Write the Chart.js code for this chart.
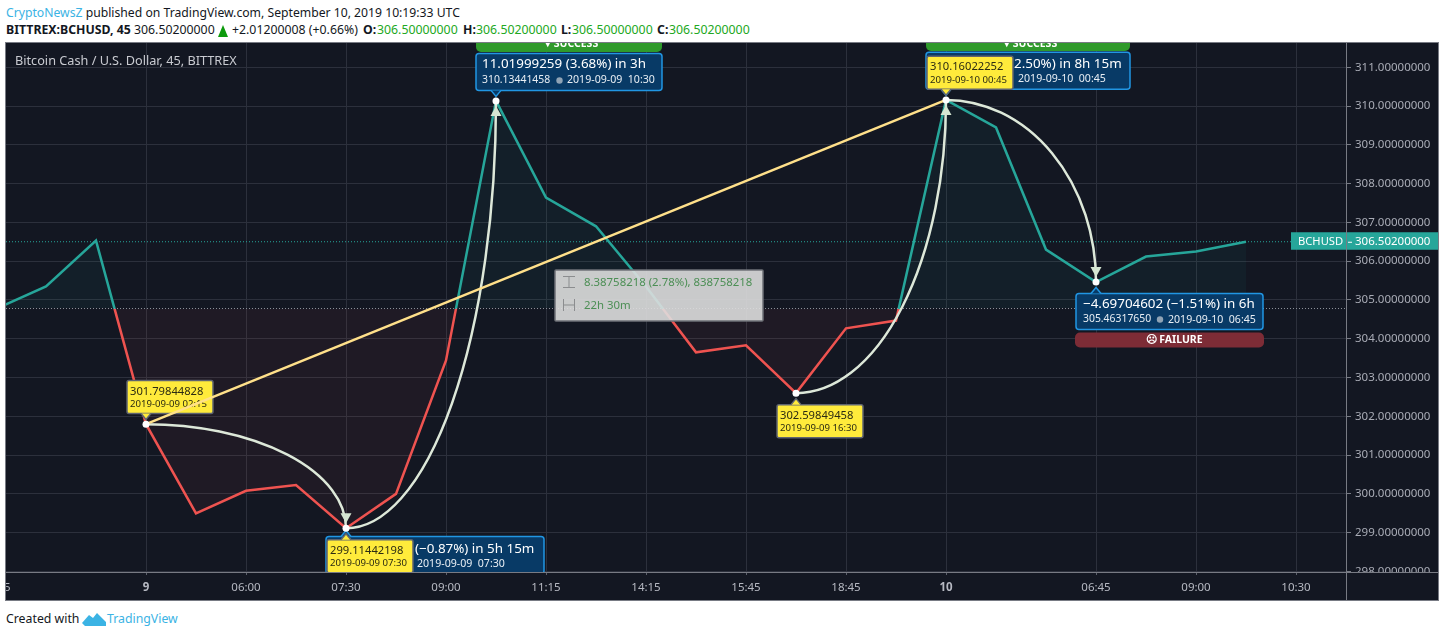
<!DOCTYPE html>
<html>
<head>
<meta charset="utf-8">
<title>BCHUSD</title>
<script src="https://cdn.jsdelivr.net/npm/chart.js@4"></script>
<style>
  html, body { margin: 0; padding: 0; background: #fff; }
  body { width: 1444px; height: 637px; overflow: hidden; position: relative; font-family: "Noto Sans", sans-serif; color: #131722; }
  .t { position: absolute; white-space: pre; font-size: 12.3px; line-height: 16px; }
  .b { font-weight: bold; }
  .g { color: #22a822; }
  .c { color: #3bb3e4; }
  #panel { position: absolute; left: 5px; top: 42px; width: 1432px; height: 557px; border: 1px solid #787b84; background: #131722; }
  #panel canvas { position: absolute; left: 0; top: 0; }
  #up { position: absolute; left: 218px; top: 25px; width: 0; height: 0; border-left: 5px solid transparent; border-right: 5px solid transparent; border-bottom: 12px solid #0c9a0c; }
  #logo { position: absolute; left: 82px; top: 612px; }
</style>
</head>
<body>
<div class="t" style="left:6px;top:5px;font-size:12.2px"><span class="c">CryptoNewsZ</span> published on TradingView.com, September 10, 2019 10:19:33 UTC</div>
<div class="t b" style="left:6px;top:22px">BITTREX:BCHUSD, 45</div>
<div class="t" style="left:134px;top:22px">306.50200000</div>
<div id="up"></div>
<div class="t" style="left:232px;top:22px">+2.01200008 (+0.66%)</div>
<div class="t b" style="left:363px;top:22px">O:</div><div class="t g" style="left:377px;top:22px">306.50000000</div>
<div class="t b" style="left:463px;top:22px">H:</div><div class="t g" style="left:476px;top:22px">306.50200000</div>
<div class="t b" style="left:561px;top:22px">L:</div><div class="t g" style="left:572px;top:22px">306.50000000</div>
<div class="t b" style="left:657px;top:22px">C:</div><div class="t g" style="left:669px;top:22px">306.50200000</div>

<div id="panel"><canvas id="chart" width="1432" height="557"></canvas></div>

<div class="t" style="left:6px;top:611px;font-size:12.3px">Created with</div>
<svg id="logo" width="24" height="15" viewBox="0 0 24 15"><path d="M0 11 L7 3 L11 6 L15 1 L24 10 L24 14 L3 14 Z" fill="#3bb3e4"/></svg>
<div class="t c" style="left:107px;top:611px;font-size:12.3px">TradingView</div>

<script>
// bars, 45 minute chart. index in the array = bar position on the x axis
var closes = [304.77, 305.35, 306.53, 301.79844828, 299.5, 300.08, 300.23, 299.11442198, 300.0, 303.44,
              310.13441458, 307.64, 306.9, 305.35, 303.65, 303.83, 302.59849458, 304.27, 304.47, 310.16022252,
              309.45, 306.3, 305.4631765, 306.12, 306.25, 306.502];
var xLabels = ['22:15', '', '', '9', '', '06:00', '', '07:30', '', '09:00', '', '11:15', '', '14:15', '', '15:45',
               '', '18:45', '', '10', '', '', '06:45', '', '09:00', '', '10:30'];
var boldLabels = ['9', '10'];
var yTicks = [298, 299, 300, 301, 302, 303, 304, 305, 306, 307, 308, 309, 310, 311];
var yMin = 297.986, yMax = 311.627;
var baseline = 304.78;
var lastPrice = 306.502;

// pattern pivots
var pivotIndex = [3, 7, 10, 16, 19, 22];
var pivotValue = [301.79844828, 299.11442198, 310.13441458, 302.59849458, 310.16022252, 305.4631765];
var pivotDate = ['2019-09-09 02:15', '2019-09-09 07:30', '2019-09-09 10:30', '2019-09-09 16:30', '2019-09-10 00:45', '2019-09-10 06:45'];
var trendFrom = 0, trendTo = 4;

var TEAL = '#26a69a', RED = '#ef5350', FONT = '"Noto Sans", sans-serif';

function lineColor(ctx) {
  var chart = ctx.chart, area = chart.chartArea;
  if (!area) return TEAL;
  var g = chart.ctx.createLinearGradient(0, area.top, 0, area.bottom);
  var stop = (chart.scales.y.getPixelForValue(baseline) - area.top) / (area.bottom - area.top);
  g.addColorStop(0, TEAL); g.addColorStop(stop, TEAL);
  g.addColorStop(stop, RED); g.addColorStop(1, RED);
  return g;
}

function box(c, x, y, w, h, r, fill, stroke) {
  c.beginPath();
  c.roundRect(x, y, w, h, r);
  c.fillStyle = fill; c.fill();
  if (stroke) { c.strokeStyle = stroke; c.lineWidth = 1.5; c.stroke(); }
}
function text(c, s, x, y, size, color, weight) {
  c.font = (weight ? weight + ' ' : '') + size + 'px ' + FONT;
  c.fillStyle = color; c.textAlign = 'left'; c.textBaseline = 'middle';
  c.fillText(s, x, y);
}
function pointer(c, x, y, dir, fill, stroke) {
  c.beginPath();
  c.moveTo(x - 5, y); c.lineTo(x, y + dir * 6); c.lineTo(x + 5, y);
  c.fillStyle = fill; c.fill();
  if (stroke) { c.strokeStyle = stroke; c.lineWidth = 1.5; c.stroke(); }
}
function pix(chart, n) {
  return { x: chart.scales.x.getPixelForValue(pivotIndex[n]), y: chart.scales.y.getPixelForValue(pivotValue[n]) };
}

function arrow(c, p, dir) {
  c.beginPath();
  c.moveTo(p.x, p.y + dir * 5); c.lineTo(p.x - 5.5, p.y + dir * 15); c.lineTo(p.x + 5.5, p.y + dir * 15);
  c.closePath();
  c.fillStyle = '#d5e6d2'; c.fill();
}
function drawArcs(c, chart) {
  c.strokeStyle = '#dde8d9'; c.lineWidth = 2.5;
  var a = pix(chart, 0), b = pix(chart, 1), d = pix(chart, 2), e = pix(chart, 3), f = pix(chart, 4), g = pix(chart, 5);
  c.beginPath(); c.ellipse(a.x, b.y, b.x - a.x, b.y - a.y, 0, -Math.PI / 2, 0); c.stroke();
  arrow(c, b, -1);
  c.beginPath(); c.ellipse(b.x, d.y, d.x - b.x, b.y - d.y, 0, Math.PI / 2, 0, true); c.stroke();
  arrow(c, d, 1);
  c.beginPath(); c.ellipse(e.x, f.y, f.x - e.x, e.y - f.y, 0, Math.PI / 2, 0, true); c.stroke();
  arrow(c, f, 1);
  c.beginPath(); c.ellipse(f.x, g.y, g.x - f.x, g.y - f.y, 0, -Math.PI / 2, 0); c.stroke();
  arrow(c, g, -1);
}

function blueBox(c, p, dy, w, h, up) {
  box(c, p.x - 20, p.y + dy, w, h, 3, '#083a66', '#2196e3');
  pointer(c, p.x, up ? p.y + dy : p.y + dy + h, up ? -1 : 1, '#083a66', '#2196e3');
}
function clockRow(c, p, dy, value, date) {
  text(c, value, p.x - 14, p.y + dy, 10.4, '#e8eef4');
  c.beginPath(); c.arc(p.x + 63.5, p.y + dy, 3.2, 0, Math.PI * 2); c.fillStyle = '#8fa3b5'; c.fill();
  text(c, date, p.x + 71, p.y + dy, 10.6, '#e8eef4');
}
function resultBar(c, x, y, w, h, fill, label) {
  box(c, x, y, w, h, 5, fill);
  text(c, label, x + w / 2 - 24, y + h / 2, 10.5, '#fff', 'bold');
}
function yellowTag(c, p, n, below) {
  var dy = below ? 11.5 : -43.7;
  box(c, p.x - 19, p.y + dy, 86, 33, 2, '#ffeb3b', '#5f6470');
  pointer(c, p.x, below ? p.y + dy : p.y + dy + 33, below ? -1 : 1, '#ffeb3b', '#5f6470');
  text(c, pivotValue[n].toFixed(8), p.x - 16, p.y + dy + 11, 11.2, '#2b2b12');
  text(c, pivotDate[n], p.x - 16, p.y + dy + 24, 9.6, '#2b2b12');
}

function drawMeasure(c) {
  // drawn over the line, so part of the series shows through
  box(c, 549, 227, 208, 51, 1, 'rgba(222,222,222,0.9)', '#6f7278');
  c.strokeStyle = '#8b8d8f'; c.lineWidth = 1;
  c.beginPath();
  c.moveTo(557, 233.5); c.lineTo(569, 233.5); c.moveTo(557, 244.5); c.lineTo(569, 244.5);
  c.moveTo(563, 234); c.lineTo(563, 244);
  c.moveTo(557.5, 256); c.lineTo(557.5, 268); c.moveTo(568.5, 256); c.lineTo(568.5, 268);
  c.moveTo(558, 262); c.lineTo(568, 262);
  c.stroke();
  text(c, '8.38758218 (2.78%), 838758218', 578, 239.5, 11.4, '#4c8f55');
  text(c, '22h 30m', 578, 262.5, 11.4, '#4c8f55');
}

var overlay = {
  id: 'overlay',
  beforeDatasetDraw: function (chart, args) {
    if (args.index !== 3) return;
    var c = chart.ctx, area = chart.chartArea;
    c.save();
    c.beginPath(); c.rect(area.left, area.top, area.right - area.left, area.bottom - area.top); c.clip();

    text(c, 'Bitcoin Cash / U.S. Dollar, 45, BITTREX', 9, 18, 12.7, '#c9cbd1');

    var a = pix(chart, 0), b = pix(chart, 1), d = pix(chart, 2), e = pix(chart, 3), f = pix(chart, 4), g = pix(chart, 5);
    drawArcs(c, chart);

    resultBar(c, d.x - 20, -6, 186, 15, '#2f9a2b', '▾ SUCCESS');
    blueBox(c, d, -47.5, 186, 37, false);
    text(c, '11.01999259 (3.68%) in 3h', d.x - 14, 21, 13.4, '#fff');
    clockRow(c, d, -20.4, '310.13441458', '2019-09-09  10:30');

    resultBar(c, f.x - 20, -6, 204, 14, '#2f9a2b', '▾ SUCCESS');
    blueBox(c, f, -47.6, 204, 37, false);
    text(c, '2.50%) in 8h 15m', f.x + 68, 21, 13.4, '#fff');
    text(c, '2019-09-10  00:45', f.x + 72, 36, 10.6, '#e8eef4');

    blueBox(c, b, 8.3, 218, 37, true);
    text(c, '(−0.87%) in 5h 15m', b.x + 69, b.y + 20.5, 13.4, '#fff');
    text(c, '2019-09-09  07:30', b.x + 71, b.y + 35.5, 10.6, '#e8eef4');

    blueBox(c, g, 11.5, 187, 36, true);
    text(c, '−4.69704602 (−1.51%) in 6h', g.x - 13, g.y + 22, 13.4, '#fff');
    text(c, '305.46317650', g.x - 13, g.y + 37.5, 10.4, '#e8eef4');
    c.beginPath(); c.arc(g.x + 64, g.y + 37.5, 3.2, 0, Math.PI * 2); c.fillStyle = '#8fa3b5'; c.fill();
    text(c, '2019-09-10  06:45', g.x + 72, g.y + 37.5, 10.6, '#e8eef4');
    resultBar(c, g.x - 21, g.y + 50.5, 189, 15, '#7d2c36', '☹ FAILURE');

    yellowTag(c, b, 1, true);
    yellowTag(c, e, 3, true);
    yellowTag(c, f, 4, false);
    yellowTag(c, a, 0, false);

    // trend line sits on top of its first label
    c.strokeStyle = '#ffe08a'; c.lineWidth = 2.5;
    var t0 = pix(chart, trendFrom), t1 = pix(chart, trendTo);
    c.beginPath(); c.moveTo(t0.x, t0.y); c.lineTo(t1.x, t1.y); c.stroke();

    drawMeasure(c);
    c.restore();
  },
  afterDraw: function (chart) {
    var c = chart.ctx, area = chart.chartArea, w = chart.width, h = chart.height;
    // price scale labels stop at the time axis
    c.fillStyle = '#131722';
    c.fillRect(area.right + 1, area.bottom, w - area.right, h - area.bottom);
    c.fillStyle = '#787b84';
    c.fillRect(area.left, Math.round(area.bottom), w, 1);
    c.fillRect(Math.round(area.right), 0, 1, h);

    var y = chart.scales.y.getPixelForValue(lastPrice);
    c.fillStyle = TEAL;
    c.fillRect(area.right - 55, y - 9.5, 55, 17.5);
    c.fillRect(area.right + 1, y - 9.5, w - area.right, 17.5);
    c.fillStyle = '#fff';
    c.fillRect(area.right + 2, y, 4, 1);
    text(c, 'BCHUSD', area.right - 48, y, 11.2, '#fff');
    text(c, lastPrice.toFixed(8), area.right + 9, y, 11.5, '#fff');
  }
};

new Chart(document.getElementById('chart'), {
  type: 'line',
  plugins: [overlay],
  data: {
    datasets: [
      {
        data: closes.map(function (v, i) { return { x: i, y: v }; }),
        borderColor: lineColor, borderWidth: 2.5, pointRadius: 0, tension: 0, order: 5,
        fill: { target: { value: baseline }, above: 'rgba(38,166,154,0.06)', below: 'rgba(239,83,80,0.06)' }
      },
      {
        data: [{ x: 0.2, y: baseline }, { x: 27, y: baseline }],
        borderColor: '#8f949c', borderWidth: 1, borderDash: [1, 2], pointRadius: 0, order: 4
      },
      {
        data: [{ x: 0.2, y: lastPrice }, { x: 27, y: lastPrice }],
        borderColor: TEAL, borderWidth: 1, borderDash: [1, 2], pointRadius: 0, order: 4
      },
      {
        data: pivotIndex.map(function (p, i) { return { x: p, y: pivotValue[i] }; }),
        showLine: false, pointRadius: 3.5, pointBackgroundColor: '#fff', pointBorderWidth: 0, order: 0
      }
    ]
  },
  options: {
    responsive: false,
    animation: false,
    events: [],
    layout: { autoPadding: false, padding: 0 },
    plugins: { legend: { display: false }, tooltip: { enabled: false } },
    scales: {
      x: {
        type: 'linear', min: 0.2, max: 27,
        afterBuildTicks: function (scale) {
          var t = [];
          xLabels.forEach(function (l, i) { if (l) t.push({ value: i }); });
          scale.ticks = t;
        },
        afterFit: function (scale) { scale.height = 28; scale.paddingLeft = 0; scale.paddingRight = 0; },
        ticks: {
          autoSkip: false, maxRotation: 0, padding: 6, color: '#b6b9c2',
          font: function (ctx) {
            var bold = ctx.tick && boldLabels.indexOf(xLabels[ctx.tick.value]) >= 0;
            return { family: FONT, size: 11.5, weight: bold ? 'bold' : 'normal' };
          },
          callback: function (v) { return xLabels[v]; }
        },
        grid: { color: '#2c303c', tickColor: '#5c606b', tickLength: 3 },
        border: { display: false }
      },
      y: {
        position: 'right', min: yMin, max: yMax,
        afterBuildTicks: function (scale) { scale.ticks = yTicks.map(function (v) { return { value: v }; }); },
        afterFit: function (scale) { scale.width = 92; scale.paddingTop = 0; scale.paddingBottom = 0; },
        ticks: {
          padding: 4, color: '#a9acb6', font: { family: FONT, size: 11.5 },
          callback: function (v) { return v.toFixed(8); }
        },
        grid: { color: '#2c303c', tickColor: '#787b84', tickLength: 5 },
        border: { display: false }
      }
    }
  }
});
</script>
</body>
</html>
